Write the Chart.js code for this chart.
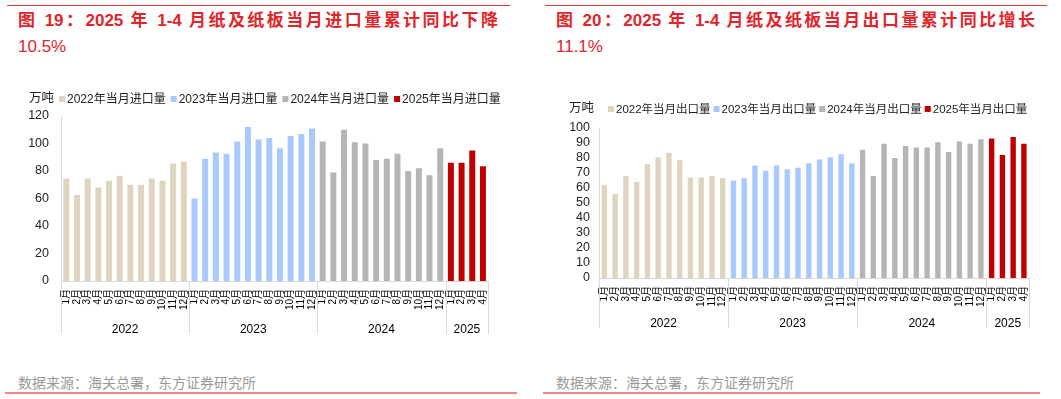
<!DOCTYPE html>
<html>
<head>
<meta charset="utf-8">
<script src="https://cdn.jsdelivr.net/npm/chart.js@4.4.1/dist/chart.umd.min.js"></script>
<style>
  body { margin: 0; width: 1061px; height: 399px; background: #fff; position: relative; overflow: hidden;
         font-family: "Liberation Sans", "Noto Sans CJK SC", sans-serif; }
  .rule-top { position: absolute; top: 5px; height: 1px; background: #e23b3e; }
  .rule-bot { position: absolute; top: 392px; height: 2px; background: #f08686; }
  .title { position: absolute; color: #e0262b; font-size: 17px; line-height: 26px; }
  .title .l1 { font-weight: bold; text-align: justify; text-align-last: justify; }
  .src { position: absolute; top: 372px; color: #999; font-size: 14px; }
  canvas { position: absolute; }
</style>
</head>
<body>
<div class="rule-top" style="left:7px;width:503px"></div>
<div class="rule-top" style="left:545px;width:502px"></div>

<div class="title" style="left:18px;top:8px;width:480px">
  <div class="l1">图 19：2025 年 1-4 月纸及纸板当月进口量累计同比下降</div>
  <div>10.5%</div>
</div>
<div class="title" style="left:556px;top:8px;width:479px">
  <div class="l1">图 20：2025 年 1-4 月纸及纸板当月出口量累计同比增长</div>
  <div>11.1%</div>
</div>

<canvas id="chartImport" width="503" height="258" style="left:0;top:85px"></canvas>
<canvas id="chartExport" width="504" height="240" style="left:540px;top:95px"></canvas>

<div class="src" style="left:18px">数据来源：海关总署，东方证券研究所</div>
<div class="src" style="left:556px">数据来源：海关总署，东方证券研究所</div>
<div class="rule-bot" style="left:5px;width:512px"></div>
<div class="rule-bot" style="left:543px;width:497px"></div>

<script>
const FONT = '"Liberation Sans", "Noto Sans CJK SC", sans-serif';
Chart.defaults.font.family = FONT;

const months = ['1月', '2月', '3月', '4月', '5月', '6月', '7月', '8月', '9月', '10月', '11月', '12月'];
const years = ['2022', '2023', '2024', '2025'];
const colors = ['#ded5bf', '#a8c9fd', '#b5b5b5', '#c00000'];

// 当月进口量（万吨）
const imp2022 = [74.5, 62.5, 74.5, 68, 73, 76.5, 70, 70, 74.5, 73, 85.5, 87];
const imp2023 = [60, 89, 93.5, 92.5, 101.5, 112, 103, 104, 96.5, 105.5, 107, 111];
const imp2024 = [101.5, 79, 110, 101, 100, 88, 89, 92.5, 80, 82, 77, 96.5];
const imp2025 = [86, 86, 95, 83.5];

// 当月出口量（万吨）
const exp2022 = [62, 56, 68, 64, 76, 80.5, 83.5, 78.5, 67, 67, 68, 66.5];
const exp2023 = [65, 66.5, 75, 71.5, 75, 72.5, 73.5, 76.5, 79, 80.5, 82.5, 76.5];
const exp2024 = [85.5, 68, 89.5, 80, 88, 87, 87, 90.5, 84, 91, 89.5, 92.5];
const exp2025 = [93, 82, 94, 89.5];

// year separators + year labels under the axis, unit text and legend row on top
const yearGroups = {
  id: 'yearGroups',
  afterDraw(chart, args, o) {
    const { ctx, chartArea: a, scales: { x } } = chart;
    ctx.save();
    ctx.strokeStyle = '#d9d9d9';
    ctx.lineWidth = 1;
    const edges = [a.left];
    let idx = 0;
    o.counts.forEach((n, g) => {
      idx += n;
      if (g < o.counts.length - 1) {
        edges.push((x.getPixelForValue(idx - 1) + x.getPixelForValue(idx)) / 2);
      } else {
        edges.push(a.right);
      }
    });
    edges.forEach(e => {
      ctx.beginPath();
      ctx.moveTo(Math.round(e) + 0.5, a.bottom);
      ctx.lineTo(Math.round(e) + 0.5, a.bottom + o.lineLen);
      ctx.stroke();
    });
    ctx.fillStyle = '#000';
    ctx.font = '12px ' + FONT;
    ctx.textAlign = 'center';
    ctx.textBaseline = 'middle';
    years.forEach((y, i) => {
      ctx.fillText(y, (edges[i] + edges[i + 1]) / 2, a.bottom + o.yearY);
    });

    ctx.textAlign = 'left';
    ctx.font = o.unitFont + 'px ' + FONT;
    ctx.fillStyle = '#222';
    ctx.fillText('万吨', o.unitX, o.legendY);

    // legend
    ctx.font = o.legendFont + 'px ' + FONT;
    let lx = o.legendX;
    chart.data.datasets.forEach(ds => {
      ctx.fillStyle = ds.backgroundColor;
      ctx.fillRect(lx, o.legendY - 3, 6, 6);
      ctx.fillStyle = '#222';
      ctx.fillText(ds.label, lx + 8, o.legendY + 0.5);
      lx += 8 + ctx.measureText(ds.label).width + o.legendGap;
    });
    ctx.restore();
  }
};

function buildChart(id, name, series, opt) {
  const labels = [];
  const counts = series.map(s => s.length);
  years.forEach((y, g) => {
    for (let m = 0; m < counts[g]; m++) labels.push(months[m]);
  });
  const total = labels.length;
  let offset = 0;
  const datasets = series.map((s, g) => {
    const data = new Array(total).fill(null);
    s.forEach((v, m) => { data[offset + m] = v; });
    offset += s.length;
    return {
      label: years[g] + '年' + name,
      data: data,
      backgroundColor: colors[g],
      borderWidth: 0,
      barPercentage: opt.barPct,
      categoryPercentage: 1
    };
  });

  return new Chart(document.getElementById(id), {
    type: 'bar',
    data: { labels: labels, datasets: datasets },
    options: {
      responsive: false,
      animation: false,
      layout: { padding: { top: opt.padTop, right: opt.padRight, left: 0, bottom: 0 } },
      plugins: {
        legend: { display: false },
        tooltip: { enabled: false },
        yearGroups: {
          counts: counts,
          legendX: opt.legendX,
          legendY: opt.legendY,
          legendFont: opt.legendFont,
          legendGap: opt.legendGap,
          unitX: opt.unitX,
          unitFont: opt.unitFont,
          lineLen: opt.lineLen,
          yearY: opt.yearY
        }
      },
      scales: {
        x: {
          stacked: true,
          grid: { display: false, drawTicks: false },
          border: { display: true, color: '#d9d9d9' },
          ticks: {
            autoSkip: false,
            minRotation: 90,
            maxRotation: 90,
            padding: 8,
            color: '#000',
            font: { size: 10 }
          },
          afterFit(s) { s.height = opt.xHeight; }
        },
        y: {
          stacked: true,
          min: 0,
          max: opt.yMax,
          grid: { display: false, drawTicks: false },
          border: { display: true, color: '#d9d9d9' },
          ticks: {
            stepSize: opt.yStep,
            autoSkip: false,
            padding: opt.yPad,
            color: '#222',
            font: { size: 12.5 }
          },
          afterFit(s) { s.width = opt.yWidth; }
        }
      }
    },
    plugins: [yearGroups]
  });
}

buildChart('chartImport', '当月进口量', [imp2022, imp2023, imp2024, imp2025], {
  barPct: 0.56, padTop: 31, padRight: 5, yMax: 120, yStep: 20, yPad: 12, yWidth: 61,
  xHeight: 62, legendX: 59, legendY: 14, legendFont: 12, legendGap: 5, unitX: 29, unitFont: 12.5,
  lineLen: 53, yearY: 49
});

buildChart('chartExport', '当月出口量', [exp2022, exp2023, exp2024, exp2025], {
  barPct: 0.5, padTop: 33, padRight: 6, yMax: 100, yStep: 10, yPad: 9, yWidth: 59,
  xHeight: 57, legendX: 68, legendY: 14, legendFont: 11.5, legendGap: 3, unitX: 29, unitFont: 12.5,
  lineLen: 50, yearY: 46
});
</script>
</body>
</html>
